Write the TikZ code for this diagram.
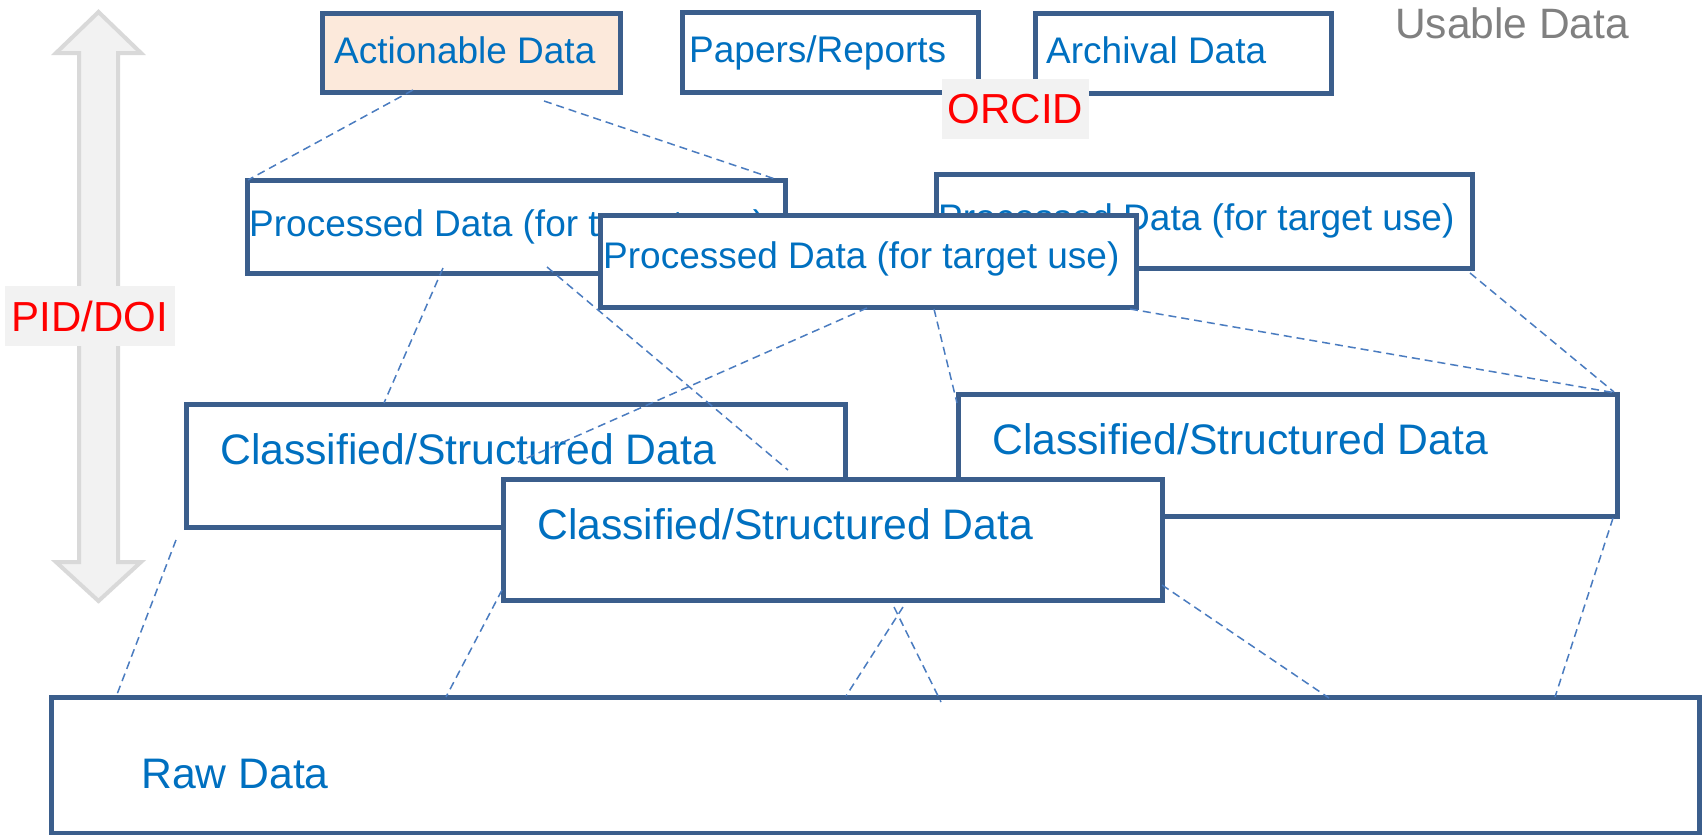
\documentclass[tikz,border=0pt]{standalone}
\usepackage{fontspec}
\setmainfont{Liberation Sans}
\definecolor{boxline}{HTML}{3B5E8C}
\definecolor{txtblue}{HTML}{0070C0}
\definecolor{dashblue}{HTML}{4A7CC0}
\definecolor{peach}{HTML}{FCE9DB}
\definecolor{lightgray}{HTML}{F2F2F2}
\definecolor{arrowline}{HTML}{D9D9D9}
\definecolor{graytxt}{HTML}{808080}
\begin{document}
\begin{tikzpicture}[x=1pt,y=-1pt,
  box/.style={draw=boxline, line width=5pt, fill=white, rectangle, inner sep=0pt},
  tsmall/.style={anchor=base west, inner sep=0pt, text=txtblue, font=\fontsize{37}{44}\selectfont},
  tbig/.style={anchor=base west, inner sep=0pt, text=txtblue, font=\fontsize{42.7}{50}\selectfont},
  redlbl/.style={fill=lightgray, inner sep=0pt, text=red, font=\fontsize{42}{50}\selectfont},
  conn/.style={draw=dashblue, line width=1.5pt, dash pattern=on 8pt off 5pt}]
\useasboundingbox (0,0) rectangle (1705,835);
\fill[white] (0,0) rectangle (1705,835);

% double arrow
\filldraw[fill=lightgray, draw=arrowline, line width=4pt, line join=miter]
  (98.5,12) -- (141,53) -- (118,53) -- (118,562) -- (141,562) -- (98.5,601)
  -- (56,562) -- (79,562) -- (79,53) -- (56,53) -- cycle;

% top row
\node[box, fill=peach, minimum width=298pt, minimum height=79pt] (act) at (471,52.5) {};
\node[tsmall] (tact) at (334,63) {Actionable Data};
\node[box, minimum width=296pt, minimum height=80pt] (pap) at (830,52) {};
\node[tsmall] (tpap) at (689,62) {Papers/Reports};
\node[box, minimum width=296pt, minimum height=80pt] (arc) at (1183,53) {};
\node[tsmall] (tarc) at (1046,63) {Archival Data};
\node[anchor=base west, inner sep=0pt, text=graytxt, font=\fontsize{42.5}{50}\selectfont] (usable) at (1395,38) {Usable Data};
\node[redlbl, minimum width=147pt, minimum height=60pt] (orcid) at (1015.5,109) {ORCID};

% processed row
\node[box, minimum width=538pt, minimum height=93pt] (p1) at (516,226.5) {};
\node[tsmall] (tp1) at (249,236) {Processed Data (for target use)};
\node[box, minimum width=536pt, minimum height=94pt] (p2) at (1204,221) {};
\node[tsmall] (tp2) at (938,230) {Processed Data (for target use)};
\node[box, minimum width=536pt, minimum height=92pt] (p3) at (868,261) {};
\node[tsmall] (tp3) at (603,268) {Processed Data (for target use)};

% classified row
\node[box, minimum width=659pt, minimum height=123pt] (c1) at (515.5,465.5) {};
\node[tbig] (tc1) at (220,464) {Classified/Structured Data};
\node[box, minimum width=659pt, minimum height=122pt] (c2) at (1287.5,455) {};
\node[tbig] (tc2) at (992,454) {Classified/Structured Data};
\node[box, minimum width=659pt, minimum height=121pt] (c3) at (832.5,539.5) {};
\node[tbig] (tc3) at (537,539) {Classified/Structured Data};

% raw
\node[box, minimum width=1648pt, minimum height=136pt] (raw) at (875,765) {};
\node[tbig] (traw) at (141,788) {Raw Data};

% PID/DOI label
\node[redlbl, minimum width=170pt, minimum height=60pt] (pid) at (90,316) {PID/DOI};

% connector end points
\coordinate (a1) at (413,90);   \coordinate (a2) at (248,180);
\coordinate (b1) at (544,101);  \coordinate (b2) at (778,180);
\coordinate (c1a) at (443,268); \coordinate (c1b) at (384,403);
\coordinate (d1) at (547,267);  \coordinate (d2) at (788,470);
\coordinate (e1) at (867,308);  \coordinate (e2) at (518,462);
\coordinate (f1) at (934,309);  \coordinate (f2) at (957,403);
\coordinate (g1) at (1130,309); \coordinate (g2) at (1616,393);
\coordinate (h1) at (1470,273); \coordinate (h2) at (1614,392);
\coordinate (i1) at (176,540);  \coordinate (i2) at (116,697);
\coordinate (j1) at (502,590);  \coordinate (j2) at (446,697);
\coordinate (k1) at (903,607);  \coordinate (k2) at (846,696);
\coordinate (k3) at (894,607);  \coordinate (k4) at (941,702);
\coordinate (l1) at (1162,585); \coordinate (l2) at (1329,698);
\coordinate (m1) at (1613,518); \coordinate (m2) at (1555,697);

\draw[conn] (a1) -- (a2);
\draw[conn] (b1) -- (b2);
\draw[conn] (c1a) -- (c1b);
\draw[conn] (d1) -- (d2);
\draw[conn] (e1) -- (e2);
\draw[conn] (f1) -- (f2);
\draw[conn] (g1) -- (g2);
\draw[conn] (h1) -- (h2);
\draw[conn] (i1) -- (i2);
\draw[conn] (j1) -- (j2);
\draw[conn] (k1) -- (k2);
\draw[conn] (k3) -- (k4);
\draw[conn] (l1) -- (l2);
\draw[conn] (m1) -- (m2);
\end{tikzpicture}
\end{document}
